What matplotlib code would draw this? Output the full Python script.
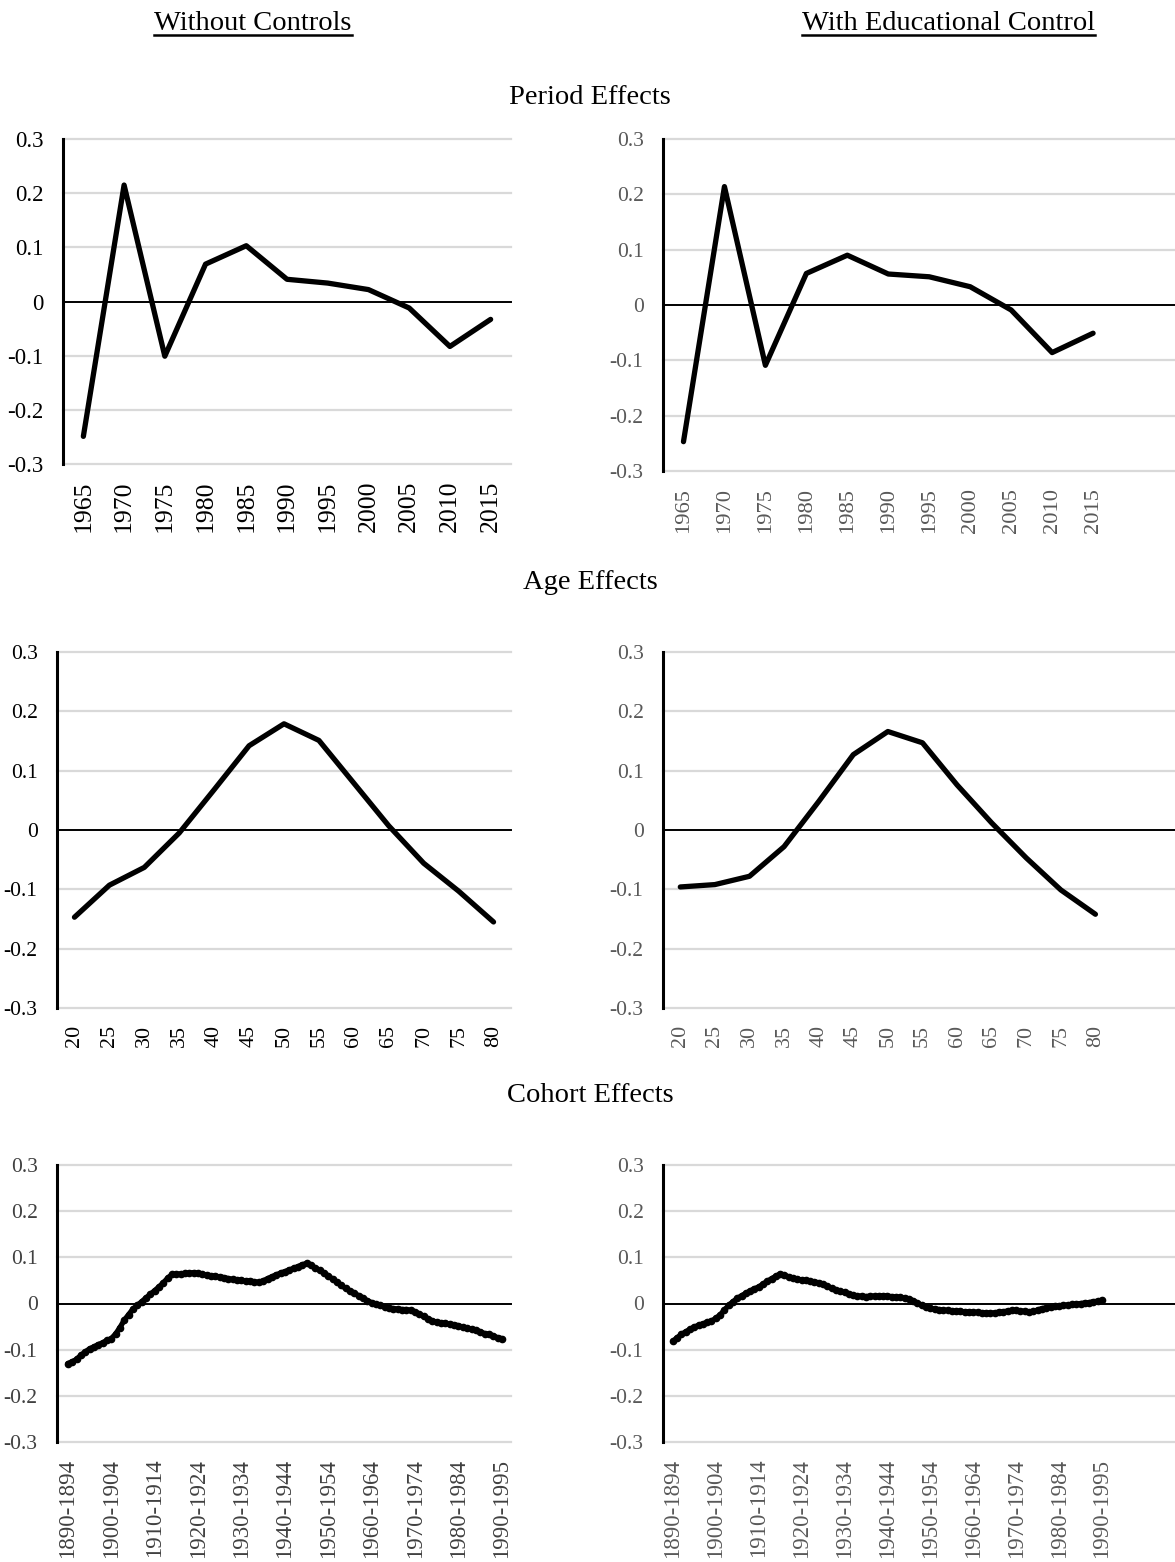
import matplotlib
matplotlib.use("Agg")
import matplotlib.pyplot as plt
from matplotlib.lines import Line2D

plt.rcParams['font.family'] = ['Liberation Serif', 'DejaVu Serif']

# period effects, 1965-2015 in 5-year steps
period_labels = ["1965", "1970", "1975", "1980", "1985", "1990",
                 "1995", "2000", "2005", "2010", "2015"]
period_no_ctrl = [-0.249, 0.215, -0.101, 0.069, 0.103, 0.041,
                  0.034, 0.022, -0.012, -0.083, -0.033]
period_edu = [-0.247, 0.214, -0.109, 0.057, 0.090, 0.056,
              0.051, 0.033, -0.009, -0.086, -0.051]

# age effects, 20-80
age_labels = ["20", "25", "30", "35", "40", "45", "50",
              "55", "60", "65", "70", "75", "80"]
age_no_ctrl = [-0.147, -0.093, -0.063, -0.005, 0.068, 0.142, 0.179,
               0.151, 0.079, 0.007, -0.056, -0.103, -0.155]
age_edu = [-0.096, -0.092, -0.078, -0.028, 0.048, 0.127, 0.166,
           0.147, 0.076, 0.012, -0.047, -0.101, -0.142]

# cohort effects, one value per birth-year window (1890-1894 ... 1990-1995)
cohort_tick_labels = ["1890-1894", "1900-1904", "1910-1914", "1920-1924",
                      "1930-1934", "1940-1944", "1950-1954", "1960-1964",
                      "1970-1974", "1980-1984", "1990-1995"]
cohort_no_ctrl = [
    -0.130, -0.126, -0.121, -0.112, -0.105, -0.098, -0.094, -0.089, -0.085, -0.080,
    -0.076, -0.066, -0.052, -0.036, -0.024, -0.012, -0.004, 0.004, 0.012, 0.020,
    0.028, 0.036, 0.045, 0.055, 0.063, 0.064, 0.064, 0.065, 0.066, 0.067,
    0.065, 0.063, 0.062, 0.060, 0.059, 0.058, 0.056, 0.054, 0.052, 0.051,
    0.050, 0.049, 0.049, 0.047, 0.046, 0.049, 0.054, 0.058, 0.062, 0.066,
    0.069, 0.073, 0.076, 0.080, 0.084, 0.087, 0.083, 0.077, 0.072, 0.066,
    0.060, 0.053, 0.046, 0.039, 0.033, 0.027, 0.022, 0.017, 0.012, 0.006,
    0.002, -0.002, -0.004, -0.007, -0.009, -0.011, -0.012, -0.013, -0.013, -0.015,
    -0.018, -0.023, -0.028, -0.033, -0.038, -0.040, -0.042, -0.043, -0.045, -0.046,
    -0.048, -0.051, -0.053, -0.056, -0.058, -0.061, -0.065, -0.067, -0.070, -0.074,
    -0.076]
cohort_edu = [
    -0.082, -0.074, -0.067, -0.061, -0.056, -0.051, -0.047, -0.044, -0.041, -0.038,
    -0.032, -0.025, -0.014, -0.004, 0.004, 0.011, 0.017, 0.022, 0.027, 0.032,
    0.036, 0.042, 0.048, 0.054, 0.059, 0.064, 0.061, 0.058, 0.055, 0.053,
    0.051, 0.050, 0.048, 0.047, 0.045, 0.042, 0.037, 0.033, 0.029, 0.026,
    0.024, 0.021, 0.018, 0.016, 0.016, 0.015, 0.016, 0.016, 0.016, 0.017,
    0.016, 0.015, 0.014, 0.013, 0.012, 0.010, 0.006, 0.001, -0.004, -0.008,
    -0.010, -0.012, -0.013, -0.014, -0.015, -0.016, -0.017, -0.017, -0.018, -0.018,
    -0.019, -0.019, -0.020, -0.020, -0.021, -0.020, -0.019, -0.018, -0.016, -0.015,
    -0.015, -0.016, -0.017, -0.018, -0.017, -0.014, -0.011, -0.009, -0.007, -0.006,
    -0.005, -0.004, -0.003, -0.002, -0.001, 0.000, 0.001, 0.002, 0.004, 0.005,
    0.007]

yticks = [-0.3, -0.2, -0.1, 0, 0.1, 0.2, 0.3]
ytick_text = ["-0.3", "-0.2", "-0.1", "0", "0.1", "0.2", "0.3"]

W, H = 1175, 1562
fig = plt.figure(figsize=(W / 100, H / 100), dpi=100)


def add_panel(px_left, px_top, px_right, px_bottom):
    return fig.add_axes([px_left / W, 1 - px_bottom / H,
                         (px_right - px_left) / W, (px_bottom - px_top) / H])


def style_panel(ax, label_color, xsize, ysize):
    ax.set_ylim(-0.3, 0.3)
    for v in yticks:
        if v == 0:
            ax.axhline(0, color='black', lw=1.4, zorder=2, clip_on=False)
        else:
            ax.axhline(v, color='#d9d9d9', lw=1.6, zorder=1, clip_on=False)
    for side in ['top', 'right', 'bottom']:
        ax.spines[side].set_visible(False)
    ax.spines['left'].set_linewidth(2.2)
    ax.set_yticks(yticks)
    ax.set_yticklabels(ytick_text)
    ax.tick_params(axis='both', length=0, colors=label_color)
    ax.tick_params(axis='y', pad=14, labelsize=ysize)
    ax.tick_params(axis='x', pad=12, labelrotation=90, labelsize=xsize)
    ax.set_facecolor('none')


def draw_series(ax, values, labels, step, xlim, label_color, xsize, ysize, marker=None):
    xs = list(range(len(values)))
    ax.plot(xs, values, color='black', lw=3.8, solid_capstyle='round',
            solid_joinstyle='round', marker=marker, markersize=4.5, zorder=3)
    ax.set_xlim(*xlim)
    ax.set_xticks(xs[::step])
    ax.set_xticklabels(labels)
    style_panel(ax, label_color, xsize, ysize)


# period row
ax = add_panel(63, 139, 511, 464)
draw_series(ax, period_no_ctrl, period_labels, 1, (-0.5, 10.5), 'black', 18.5, 16.5)
ax = add_panel(663, 139, 1175, 471)
draw_series(ax, period_edu, period_labels, 1, (-0.5, 12.0), '#595959', 16.2, 15.5)

# age row
ax = add_panel(57, 652, 511, 1008)
draw_series(ax, age_no_ctrl, age_labels, 1, (-0.5, 12.5), 'black', 15.8, 15.5)
ax = add_panel(663, 652, 1175, 1008)
draw_series(ax, age_edu, age_labels, 1, (-0.5, 14.3), '#595959', 15.8, 15.5)

# cohort row
ax = add_panel(57, 1165, 511, 1442)
draw_series(ax, cohort_no_ctrl, cohort_tick_labels, 10, (-2.5, 102.1), '#404040',
            16.5, 15.5, marker='o')
ax = add_panel(663, 1165, 1175, 1442)
draw_series(ax, cohort_edu, cohort_tick_labels, 10, (-2.3, 117.0), '#595959',
            16.5, 15.5, marker='o')

# column headings (underlined) and row headings
col_titles = []
for cx, txt in [(253, "Without Controls"), (948, "With Educational Control")]:
    col_titles.append(fig.text(cx / W, 1 - 30 / H, txt, ha='center', va='baseline',
                               fontsize=20.5, color='black'))
for cy, txt in [(104, "Period Effects"), (589, "Age Effects"), (1102, "Cohort Effects")]:
    fig.text(590 / W, 1 - cy / H, txt, ha='center', va='baseline', fontsize=20.5)

fig.canvas.draw()
renderer = fig.canvas.get_renderer()
for t in col_titles:
    bb = t.get_window_extent(renderer)
    y = (bb.y0 + 1) / H
    fig.add_artist(Line2D([bb.x0 / W, bb.x1 / W], [y, y], color='black', lw=1.8))

fig.savefig("out.png", dpi=100)
